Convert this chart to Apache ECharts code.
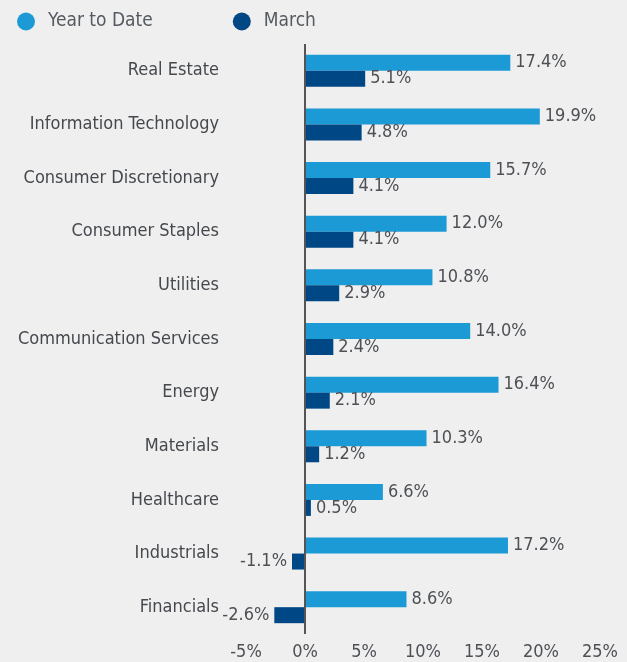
<!DOCTYPE html>
<html>

<head>
    <meta charset="utf-8" />
    <title>Sector returns</title>
    <script src="https://cdn.jsdelivr.net/npm/echarts@6/dist/echarts.min.js"></script>
</head>

<body style="margin: 0; background: #efefef">
    <div id="main" style="width: 627px; height: 662px"></div>
    <script type="text/javascript">
        var sectors = [
            "Real Estate",
            "Information Technology",
            "Consumer Discretionary",
            "Consumer Staples",
            "Utilities",
            "Communication Services",
            "Energy",
            "Materials",
            "Healthcare",
            "Industrials",
            "Financials",
        ];
        var yearToDate = [17.4, 19.9, 15.7, 12.0, 10.8, 14.0, 16.4, 10.3, 6.6, 17.2, 8.6];
        var march = [5.1, 4.8, 4.1, 4.1, 2.9, 2.4, 2.1, 1.2, 0.5, -1.1, -2.6];

        var font = '"Liberation Sans Narrow", "DejaVu Sans Condensed", Roboto, sans-serif';

        function withLabels(values) {
            return values.map(function (v) {
                return {
                    value: v,
                    label: { position: v < 0 ? "left" : "right" },
                };
            });
        }

        var labelStyle = {
            show: true,
            distance: 5,
            color: "#4d5055",
            fontFamily: font,
            fontSize: 18,
            formatter: function (p) {
                return p.value.toFixed(1) + "%";
            },
        };

        var myChart = echarts.init(document.getElementById("main"));
        myChart.setOption({
            backgroundColor: "#efefef",
            animation: false,
            legend: {
                left: 12,
                top: 7,
                icon: "circle",
                itemWidth: 18,
                itemHeight: 18,
                itemGap: 80,
                textStyle: { color: "#555a60", fontFamily: font, fontSize: 19, padding: [0, 0, 0, 8] },
                data: ["Year to Date", "March"],
            },
            grid: { left: 246, right: 27, top: 44, bottom: 28 },
            xAxis: {
                type: "value",
                min: -5,
                max: 25,
                interval: 5,
                splitLine: { show: false },
                axisLine: { show: false },
                axisTick: { show: false },
                axisLabel: {
                    color: "#4d5055",
                    fontFamily: font,
                    fontSize: 18,
                    margin: 9,
                    formatter: "{value}%",
                },
            },
            yAxis: {
                type: "category",
                inverse: true,
                data: sectors,
                axisLine: { show: false },
                axisTick: { show: false },
                axisLabel: {
                    color: "#45484d",
                    fontFamily: font,
                    fontSize: 18,
                    margin: 27,
                    padding: [0, 0, 4, 0],
                },
            },
            series: [
                {
                    name: "Year to Date",
                    type: "bar",
                    data: withLabels(yearToDate),
                    itemStyle: { color: "#1b9ad6" },
                    barWidth: 16,
                    barGap: "0%",
                    label: labelStyle,
                    markLine: {
                        silent: true,
                        symbol: "none",
                        label: { show: false },
                        lineStyle: { color: "#555", type: "solid", width: 2 },
                        data: [{ xAxis: 0 }],
                    },
                },
                {
                    name: "March",
                    type: "bar",
                    data: withLabels(march),
                    itemStyle: { color: "#004785" },
                    barWidth: 16,
                    barGap: "0%",
                    label: labelStyle,
                },
            ],
        });
    </script>
</body>

</html>
